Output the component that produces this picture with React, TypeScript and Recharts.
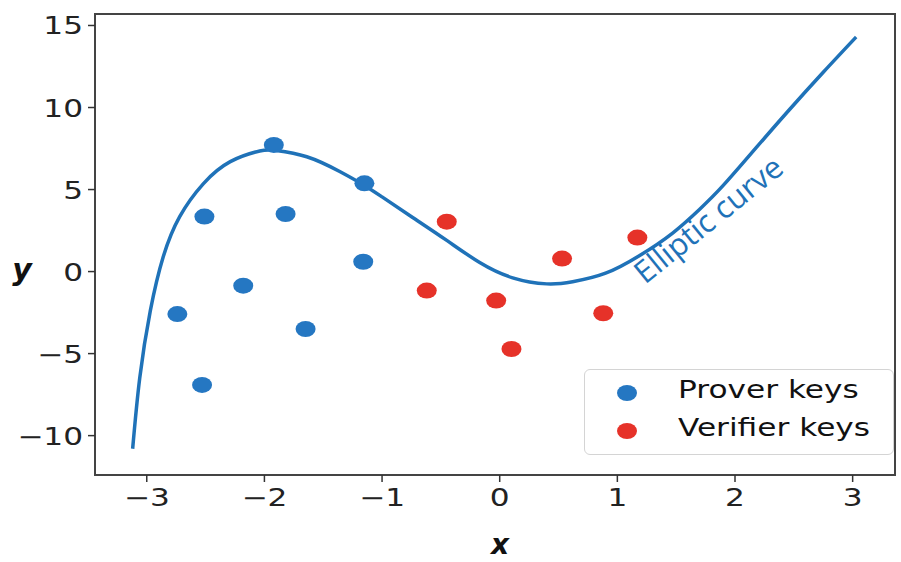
import React from "react";
import {
  ComposedChart, Line, Scatter, XAxis, YAxis, ReferenceArea,
} from "recharts";

// curve
const curveX = [-3.12, -3.06, -2.97, -2.86, -2.72, -2.52, -2.29, -2.04, -1.9, -1.64, -1.36, -1.15, -1.0, -0.74, -0.45, -0.17, 0.11, 0.4, 0.62, 0.9, 1.19, 1.47, 1.7, 1.9, 2.18, 2.46, 2.75, 3.03];
const curveY = [-10.8, -6.5, -2.4, 0.9, 3.35, 5.35, 6.7, 7.35, 7.38, 7.0, 6.1, 5.25, 4.55, 3.3, 1.9, 0.55, -0.38, -0.75, -0.62, -0.1, 0.98, 2.35, 3.8, 5.25, 7.55, 9.85, 12.15, 14.3];

const proverX = [-1.92, -1.15, -2.51, -1.82, -1.16, -2.18, -2.74, -1.65, -2.53];
const proverY = [7.72, 5.38, 3.35, 3.51, 0.6, -0.86, -2.59, -3.5, -6.91];

const verifierX = [-0.45, 1.17, 0.53, -0.62, -0.03, 0.88, 0.1];
const verifierY = [3.04, 2.07, 0.79, -1.16, -1.77, -2.54, -4.72];

const xTicks = [-3, -2, -1, 0, 1, 2, 3];
const yTicks = [-10, -5, 0, 5, 10, 15];
const xDomain = [-3.44, 3.36];
const yDomain = [-12.4, 15.7];

const BLUE_LINE = "#1f72b8";
const BLUE = "#2577c2";
const RED = "#e63229";
const FONT = "'DejaVu Sans', sans-serif";

const curve = curveX.map((x, i) => ({ x, y: curveY[i] }));
const prover = proverX.map((x, i) => ({ x, y: proverY[i] }));
const verifier = verifierX.map((x, i) => ({ x, y: verifierY[i] }));

const fmt = (v: number) => (v < 0 ? "\u2212" + Math.abs(v) : String(v));

function XTick({ x, y, payload }: any) {
  return (
    <text transform={`translate(${x},${y + 22}) scale(1.3,1)`} textAnchor="middle"
      fontSize={24} fontFamily={FONT} fill="#222">
      {fmt(payload.value)}
    </text>
  );
}

function YTick({ x, y, payload }: any) {
  return (
    <text transform={`translate(${x},${y + 9}) scale(1.3,1)`} textAnchor="end"
      fontSize={24} fontFamily={FONT} fill="#222">
      {fmt(payload.value)}
    </text>
  );
}

const dot = (color: string) => (p: any) => (
  <ellipse cx={p.cx} cy={p.cy} rx={10} ry={8} fill={color} />
);

export default function App() {
  return (
    <div style={{ position: "absolute", left: 0, top: 0, width: 901, height: 562, background: "#fff" }}>
      <ComposedChart width={901} height={562} margin={{ top: 14, right: 6, bottom: 0, left: 0 }}>
        <XAxis type="number" dataKey="x" domain={xDomain} ticks={xTicks} allowDataOverflow
          height={87} tick={<XTick />} tickSize={7} tickLine={{ stroke: "#333", strokeWidth: 1.5 }}
          axisLine={false} />
        <YAxis type="number" dataKey="y" domain={yDomain} ticks={yTicks} allowDataOverflow
          width={95} tick={<YTick />} tickSize={7} tickMargin={5} tickLine={{ stroke: "#333", strokeWidth: 1.5 }}
          axisLine={false} />
        <ReferenceArea x1={xDomain[0]} x2={xDomain[1]} y1={yDomain[0]} y2={yDomain[1]}
          fill="none" stroke="#444" strokeWidth={2} ifOverflow="visible" />
        <Line data={curve} dataKey="y" type="natural" stroke={BLUE_LINE} strokeWidth={3.5}
          dot={false} activeDot={false} isAnimationActive={false} />
        <Scatter data={prover} dataKey="y" shape={dot(BLUE)} isAnimationActive={false} />
        <Scatter data={verifier} dataKey="y" shape={dot(RED)} isAnimationActive={false} />
      </ComposedChart>

      <svg width={901} height={562} style={{ position: "absolute", left: 0, top: 0, pointerEvents: "none" }}>
        <text x={645} y={285} transform="rotate(-39 645 285)" fontSize={31}
          fontFamily="'Open Sans', sans-serif" fill={BLUE_LINE}>Elliptic curve</text>
        <text x={500} y={554} textAnchor="middle" fontSize={28} fontWeight="bold"
          fontStyle="italic" fontFamily={FONT} fill="#111">x</text>
        <text x={22} y={280} textAnchor="middle" fontSize={30} fontWeight="bold"
          fontStyle="italic" fontFamily={FONT} fill="#111">y</text>
      </svg>

      <div style={{
        position: "absolute", left: 584, top: 369, width: 308, height: 84,
        border: "1.5px solid #d4d4d4", borderRadius: 6, background: "#fff",
      }}>
        {[{ label: "Prover keys", color: BLUE }, { label: "Verifier keys", color: RED }].map((e, i) => (
          <div key={e.label} style={{ position: "absolute", left: 0, top: 6 + i * 38, height: 34, width: 300 }}>
            <span style={{
              position: "absolute", left: 32, top: 9, width: 20, height: 16,
              borderRadius: "50%", background: e.color,
            }} />
            <span style={{
              position: "absolute", left: 93, top: 0, fontSize: 24, fontFamily: FONT, color: "#111",
              transform: "scaleX(1.3)", transformOrigin: "left center", whiteSpace: "nowrap",
            }}>{e.label}</span>
          </div>
        ))}
      </div>
    </div>
  );
}
